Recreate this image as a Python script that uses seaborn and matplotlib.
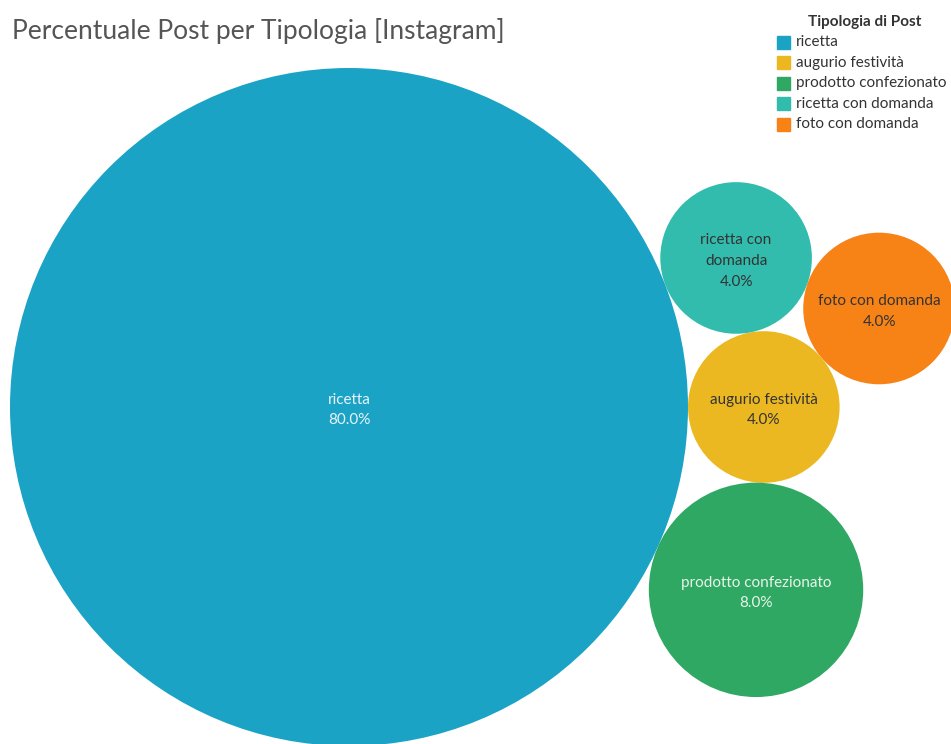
import numpy as np
import pandas as pd
import matplotlib
matplotlib.use("Agg")
import matplotlib.pyplot as plt
import seaborn as sns

# ---- data ----
categories = ["ricetta", "augurio festività", "prodotto confezionato",
              "ricetta con domanda", "foto con domanda"]
percent = [80.0, 4.0, 8.0, 4.0, 4.0]
bubble_labels = ["ricetta", "augurio festività", "prodotto confezionato",
                 "ricetta con\ndomanda", "foto con domanda"]
colors = ["#1BA3C6", "#ECB822", "#2FA864", "#32BCAD", "#F78317"]
text_colors = ["#E8F4F8", "#333333", "#E8F4E8", "#333333", "#333333"]
title = "Percentuale Post per Tipologia [Instagram]"
legend_title = "Tipologia di Post"

sns.set_theme(style="white")
plt.rcParams["font.family"] = ["Lato", "DejaVu Sans"]

W, H, DPI = 951, 744, 100
fig = plt.figure(figsize=(W / DPI, H / DPI), dpi=DPI)
ax = fig.add_axes([0, 0, 1, 1])
ax.set_xlim(0, W)
ax.set_ylim(H, 0)
ax.axis("off")

# ---- simple packed-bubble layout (pixel units, y down) ----
anchor = np.array([349.0, 407.0])
k = 339.0 / np.sqrt(max(percent))
radii = [k * np.sqrt(p) for p in percent]


def tangent(ca, ra, cb, rb, r, side):
    d = np.linalg.norm(cb - ca)
    a = ra + r
    b = rb + r
    x = (a * a - b * b + d * d) / (2 * d)
    h = np.sqrt(max(a * a - x * x, 0))
    u = (cb - ca) / d
    n = np.array([-u[1], u[0]])
    return ca + u * x + side * n * h


centers = [None] * 5
centers[0] = anchor
centers[1] = anchor + np.array([radii[0] + radii[1], 0.0])
centers[2] = tangent(centers[0], radii[0], centers[1], radii[1], radii[2], +1)
centers[3] = tangent(centers[0], radii[0], centers[1], radii[1], radii[3], -1)
centers[4] = tangent(centers[3], radii[3], centers[1], radii[1], radii[4], -1)

df = pd.DataFrame({
    "tipo": categories,
    "pct": percent,
    "x": [c[0] for c in centers],
    "y": [c[1] for c in centers],
})
sizes = [(2 * r * 72 / DPI) ** 2 for r in radii]

sns.scatterplot(data=df, x="x", y="y", hue="tipo",
                palette=dict(zip(categories, colors)),
                s=sizes, linewidth=0, alpha=1, legend=False, ax=ax,
                zorder=2)
ax.set_xlabel("")
ax.set_ylabel("")

# bubble labels
for i, row in df.iterrows():
    ax.text(row["x"], row["y"] + 3, f"{bubble_labels[i]}\n{row['pct']:.1f}%",
            ha="center", va="center", fontsize=11, color=text_colors[i],
            linespacing=1.6, zorder=3)

# title
ax.text(12, 31, title, ha="left", va="center", fontsize=19,
        color="#555555")

# legend
ax.text(865, 22, legend_title, ha="center", va="center", fontsize=11,
        fontweight="bold", color="#333333")
for i, (cat, col) in enumerate(zip(categories, colors)):
    yy = 42 + i * 20.5
    ax.add_patch(plt.Rectangle((777, yy - 6.5), 13, 13, color=col,
                               transform=ax.transData, clip_on=False))
    ax.text(796, yy, cat, ha="left", va="center", fontsize=11,
            color="#333333")

fig.savefig("out.png", dpi=DPI)
